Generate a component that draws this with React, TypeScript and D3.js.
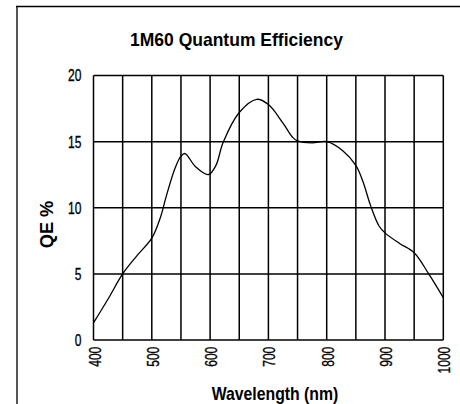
import React from 'react'
import * as d3 from 'd3'

// QE curve
const wavelengths = [400, 425, 450, 475, 500, 515, 525, 540, 550, 557, 575, 597, 610, 622, 650, 680, 700, 725, 742, 750, 775, 800, 828, 850, 862, 875, 890, 900, 925, 950, 975, 1000]
const qeValues = [1.3, 3.1, 5.0, 6.4, 7.7, 9.3, 10.9, 13.0, 13.9, 14.1, 13.1, 12.5, 13.2, 14.9, 17.2, 18.2, 17.8, 16.4, 15.3, 15.05, 14.9, 15.0, 14.3, 13.2, 12.0, 10.2, 8.6, 8.1, 7.3, 6.6, 5.0, 3.2]

const xTicks = [400, 500, 600, 700, 800, 900, 1000]
const xGrid = d3.range(400, 1001, 50)
const yTicks = [0, 5, 10, 15, 20]

const W = 460
const H = 404
const font = '"Liberation Sans", Arial, sans-serif'
// the original uses a very condensed face, so squeeze glyphs to its widths
const digitW = 6.7

export default function App() {
  const x = d3.scaleLinear().domain([400, 1000]).range([93.5, 443.3])
  const y = d3.scaleLinear().domain([0, 20]).range([340, 75.5])

  const points = wavelengths.map((w, i) => [w, qeValues[i]] as [number, number])
  const line = d3
    .line<[number, number]>()
    .x((d) => x(d[0]))
    .y((d) => y(d[1]))
    .curve(d3.curveCatmullRom.alpha(0.5))

  return (
    <svg
      width={W}
      height={H}
      style={{ position: 'absolute', left: 0, top: 0, background: '#fff' }}
      fontFamily={font}
    >
      {/* frame */}
      <line x1={17} x2={17} y1={6} y2={H} stroke="#555" strokeWidth={2} />
      <line x1={16} x2={W} y1={6.5} y2={6.5} stroke="#000" strokeWidth={1.4} />

      <text
        x={236.5}
        y={45.5}
        textAnchor="middle"
        fontSize={19}
        fontWeight="bold"
        textLength={213}
        lengthAdjust="spacingAndGlyphs"
      >
        1M60 Quantum Efficiency
      </text>

      {/* grid */}
      {xGrid.map((v) => (
        <line key={`gx-${v}`} x1={x(v)} x2={x(v)} y1={y(20)} y2={y(0)} stroke="#000" strokeWidth={1.5} />
      ))}
      {yTicks.map((v) => (
        <line key={`gy-${v}`} x1={x(400)} x2={x(1000)} y1={y(v)} y2={y(v)} stroke="#000" strokeWidth={1.5} />
      ))}

      {/* y tick labels */}
      {yTicks.map((v) => (
        <text
          key={`yt-${v}`}
          x={81.5}
          y={y(v)}
          dy="0.36em"
          textAnchor="end"
          fontSize={16.5}
          stroke="#000"
          strokeWidth={0.35}
          textLength={String(v).length * digitW}
          lengthAdjust="spacingAndGlyphs"
        >
          {v}
        </text>
      ))}

      {/* x tick labels */}
      {xTicks.map((v) => (
        <text
          key={`xt-${v}`}
          transform={`translate(${x(v) + 7},346.7) rotate(-90)`}
          textAnchor="end"
          fontSize={16.5}
          stroke="#000"
          strokeWidth={0.35}
          textLength={String(v).length * digitW}
          lengthAdjust="spacingAndGlyphs"
        >
          {v}
        </text>
      ))}

      <path d={line(points) || ''} fill="none" stroke="#000" strokeWidth={1.3} />

      <text
        x={275}
        y={400}
        textAnchor="middle"
        fontSize={18.5}
        fontWeight="bold"
        textLength={126.6}
        lengthAdjust="spacingAndGlyphs"
      >
        Wavelength (nm)
      </text>
      <text
        transform="translate(52.7,224.5) rotate(-90)"
        textAnchor="middle"
        fontSize={18}
        fontWeight="bold"
        textLength={47.6}
        lengthAdjust="spacingAndGlyphs"
      >
        QE %
      </text>
    </svg>
  )
}
